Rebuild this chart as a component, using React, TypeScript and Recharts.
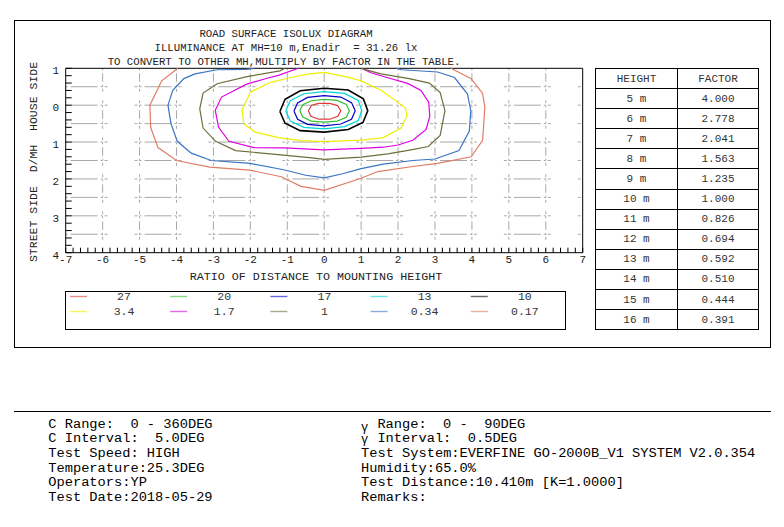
import React from "react";
import { ScatterChart, Scatter, XAxis, YAxis, CartesianGrid, ReferenceArea } from "recharts";

const FONT = "'Liberation Mono', 'Courier New', monospace";

// isolux levels (lx), same order as the legend
const LEVELS = ["27", "20", "17", "13", "10", "3.4", "1.7", "1", "0.34", "0.17"];
const COLORS = ["#e03c3c", "#34c034", "#0000c4", "#00d4d4", "#000000", "#f0ee00", "#e000e0", "#6e6e3c", "#3a74c4", "#e07c64"];
const CLOSED = [true, true, true, true, true, true, false, false, false, false];

// contour points [x, y] as D/MH ; y < 0 is house side
const C27 = [[-0.43, 0.15], [-0.34, 0.0], [-0.15, -0.05], [0.15, -0.05], [0.36, 0.01], [0.45, 0.15], [0.37, 0.3], [0.15, 0.38], [-0.15, 0.38], [-0.36, 0.3]];
const C20 = [[-0.66, 0.15], [-0.58, -0.01], [-0.35, -0.12], [0, -0.16], [0.35, -0.13], [0.6, -0.02], [0.68, 0.15], [0.6, 0.33], [0.35, 0.43], [0, 0.46], [-0.35, 0.43], [-0.58, 0.32]];
const C17 = [[-0.82, 0.16], [-0.72, -0.06], [-0.45, -0.21], [0, -0.26], [0.45, -0.22], [0.74, -0.07], [0.84, 0.15], [0.74, 0.38], [0.45, 0.51], [0, 0.56], [-0.45, 0.52], [-0.72, 0.38]];
const C13 = [[-1.04, 0.15], [-0.92, -0.12], [-0.55, -0.31], [0, -0.37], [0.55, -0.32], [0.92, -0.13], [1.02, 0.15], [0.92, 0.42], [0.55, 0.58], [0, 0.64], [-0.55, 0.6], [-0.92, 0.43]];
const C10 = [[-1.2, 0.17], [-1.06, -0.16], [-0.65, -0.39], [0, -0.46], [0.65, -0.41], [1.06, -0.17], [1.18, 0.15], [1.05, 0.47], [0.65, 0.66], [0, 0.73], [-0.65, 0.69], [-1.06, 0.49]];
const C3_4 = [[0, -0.89], [0.64, -0.76], [1.0, -0.66], [1.55, -0.4], [1.9, -0.15], [2.2, 0.08], [2.24, 0.3], [2.08, 0.62], [1.6, 0.88], [1.0, 0.95], [0.5, 0.97], [0, 0.99], [-0.6, 0.96], [-1.24, 0.88], [-1.87, 0.73], [-2.18, 0.5], [-2.22, 0.12], [-2.0, -0.35], [-1.45, -0.62], [-0.9, -0.75], [-0.45, -0.84]];
const C1_7 = [[-0.7, -1], [-1.24, -0.81], [-1.55, -0.73], [-2.1, -0.57], [-2.78, -0.22], [-2.95, 0.14], [-2.86, 0.6], [-2.58, 0.98], [-1.9, 1.15], [-1.08, 1.16], [0, 1.21], [1, 1.17], [1.6, 1.14], [2.0, 1.08], [2.4, 0.95], [2.76, 0.66], [2.86, 0.3], [2.83, -0.08], [2.62, -0.4], [2.26, -0.59], [1.63, -0.77], [1.27, -0.88], [1.0, -1]];
const C1 = [[-1.06, -1], [-1.2, -0.93], [-2.06, -0.78], [-2.9, -0.58], [-3.28, -0.33], [-3.37, 0.1], [-3.28, 0.62], [-2.94, 0.98], [-2.4, 1.23], [-1.25, 1.34], [-0.4, 1.42], [0, 1.47], [1, 1.41], [1.72, 1.32], [2.35, 1.21], [2.82, 1.12], [3.14, 0.82], [3.27, 0.15], [3.14, -0.34], [2.85, -0.6], [2.3, -0.72], [1.54, -0.85], [1.09, -0.97], [1.02, -1]];
const C0_34 = [[-1.9, -1], [-2.1, -0.97], [-2.9, -0.96], [-3.5, -0.85], [-3.8, -0.72], [-4.1, -0.4], [-4.23, 0], [-4.15, 0.5], [-3.98, 0.98], [-3.6, 1.3], [-3.06, 1.5], [-2.0, 1.58], [-1.1, 1.75], [-0.5, 1.9], [0, 1.97], [0.5, 1.86], [1, 1.72], [1.6, 1.6], [2.4, 1.5], [3.0, 1.46], [3.65, 1.23], [3.93, 0.7], [3.97, 0.15], [3.88, -0.3], [3.53, -0.75], [3.07, -0.9], [2.1, -0.96], [1.96, -1]];
const C0_17 = [[-3.96, -1], [-4.4, -0.66], [-4.72, 0], [-4.7, 0.6], [-4.5, 1.15], [-4.0, 1.5], [-3.1, 1.68], [-2.02, 1.76], [-1.16, 1.94], [-0.63, 2.2], [0, 2.31], [1, 1.98], [1.45, 1.8], [2.35, 1.67], [3.07, 1.58], [3.98, 1.4], [4.29, 0.95], [4.35, 0.05], [4.29, -0.32], [3.98, -0.72], [3.43, -1]];
const CONTOURS = [C27, C20, C17, C13, C10, C3_4, C1_7, C1, C0_34, C0_17];

// factor table
const HEIGHTS = ["5 m", "6 m", "7 m", "8 m", "9 m", "10 m", "11 m", "12 m", "13 m", "14 m", "15 m", "16 m"];
const FACTORS = ["4.000", "2.778", "2.041", "1.563", "1.235", "1.000", "0.826", "0.694", "0.592", "0.510", "0.444", "0.391"];

// test info at the bottom
const INFO_LEFT = ["C Range:  0 - 360DEG", "C Interval:  5.0DEG", "Test Speed: HIGH", "Temperature:25.3DEG", "Operators:YP", "Test Date:2018-05-29"];
const INFO_RIGHT = ["Range:  0 -  90DEG", "Interval:  0.5DEG", "Test System:EVERFINE GO-2000B_V1 SYSTEM V2.0.354", "Humidity:65.0%", "Test Distance:10.410m [K=1.0000]", "Remarks:"];

const X_TICKS = Array.from({ length: 71 }, (_, i) => Math.round((-7 + i * 0.2) * 10) / 10);
const Y_TICKS = Array.from({ length: 26 }, (_, i) => Math.round((-1 + i * 0.2) * 10) / 10);
const V_GRID = [-6, -5, -4, -3, -2, -1, 0, 1, 2, 3, 4, 5, 6];
const H_GRID = [-0.5, 0, 0.5, 1, 1.5, 2, 2.5, 3, 3.5];

const isInt = (v: number) => Math.abs(v - Math.round(v)) < 1e-6;

function XTick(props: any) {
  const { x, y, payload } = props;
  const v = payload.value;
  return (
    <g>
      <line x1={x} y1={y} x2={x} y2={y - 5} stroke="#000" />
      {isInt(v) && (
        <text x={x} y={y + 10.5} textAnchor="middle" fontFamily={FONT} fontSize={11} fill="#222">
          {Math.round(v)}
        </text>
      )}
    </g>
  );
}

function YTick(props: any) {
  const { x, y, payload } = props;
  const v = payload.value;
  return (
    <g>
      <line x1={x} y1={y} x2={x + 6} y2={y} stroke="#000" />
      {isInt(v) && (
        <text x={x - 6.5} y={y + 6} textAnchor="end" fontFamily={FONT} fontSize={11} fill="#222">
          {Math.abs(Math.round(v))}
        </text>
      )}
    </g>
  );
}

const noDot = () => <g />;

const text = (extra: React.CSSProperties): React.CSSProperties => ({
  position: "absolute",
  fontFamily: FONT,
  whiteSpace: "pre",
  lineHeight: 1,
  color: "#222",
  ...extra,
});

export default function App() {
  const series = CONTOURS.map((c, i) => {
    const pts = c.map(([x, y]) => ({ x, y }));
    return CLOSED[i] ? [...pts, pts[0]] : pts;
  });

  return (
    <div style={{ position: "absolute", left: 0, top: 0, width: 784, height: 527, background: "#fff" }}>
      {/* outer frame */}
      <div style={{ position: "absolute", left: 14, top: 20, width: 757, height: 328, border: "1px solid #000", boxSizing: "border-box" }} />

      {/* titles */}
      <div style={text({ left: 286, top: 34, fontSize: 10.7, transform: "translate(-50%,-50%)" })}>ROAD SURFACE ISOLUX DIAGRAM</div>
      <div style={text({ left: 286, top: 48, fontSize: 10.7, transform: "translate(-50%,-50%)" })}>ILLUMINANCE AT MH=10 m,Enadir  = 31.26 lx</div>
      <div style={text({ left: 284, top: 61.5, fontSize: 10.7, transform: "translate(-50%,-50%)" })}>TO CONVERT TO OTHER MH,MULTIPLY BY FACTOR IN THE TABLE.</div>

      <div style={{ position: "absolute", left: 0, top: 0 }}>
        <ScatterChart width={784} height={300} margin={{ top: 68.3, right: 201.3, bottom: 46.3, left: 64.7 }}>
          <CartesianGrid vertical={false} horizontalValues={H_GRID} stroke="#a8a8a8" strokeDasharray="2 3 26.93 3 2" />
          <CartesianGrid horizontal={false} verticalValues={V_GRID} stroke="#a8a8a8" strokeDasharray="2 3 8.5 3 2" />
          <XAxis type="number" dataKey="x" domain={[-7, 7]} ticks={X_TICKS} interval={0} height={1}
            axisLine={false} tickLine={false} tickSize={0} tickMargin={0} tick={<XTick />} />
          <YAxis type="number" dataKey="y" domain={[-1, 4]} reversed ticks={Y_TICKS} interval={0} width={1}
            axisLine={false} tickLine={false} tickSize={0} tickMargin={0} tick={<YTick />} />
          <ReferenceArea x1={-7} x2={7} y1={-1} y2={4} fill="none" stroke="#000" strokeWidth={1} />
          {series.map((d, i) => (
            <Scatter key={LEVELS[i]} name={LEVELS[i]} data={d} fill={COLORS[i]} shape={noDot}
              line={{ stroke: COLORS[i], strokeWidth: i === 4 ? 1.6 : 1.2 }} isAnimationActive={false} />
          ))}
        </ScatterChart>
      </div>

      {/* axis titles */}
      <div style={text({ left: 316, top: 278, fontSize: 11.7, transform: "translate(-50%,-50%)" })}>RATIO OF DISTANCE TO MOUNTING HEIGHT</div>
      <div style={text({ left: 34, top: 162, fontSize: 11.5, transform: "translate(-50%,-50%) rotate(-90deg)" })}>STREET SIDE  D/MH  HOUSE SIDE</div>

      {/* legend */}
      <div style={{ position: "absolute", left: 65, top: 290.7, width: 501, height: 39.5, border: "1px solid #000", boxSizing: "border-box" }}>
        <svg width={499} height={37} style={{ position: "absolute", left: 0, top: 0 }}>
          {LEVELS.map((lv, i) => {
            const col = i % 5;
            const row = Math.floor(i / 5);
            const cy = 4.5 + row * 15;
            return (
              <line key={lv} x1={4 + col * 100.2} x2={21 + col * 100.2} y1={cy} y2={cy} stroke={COLORS[i]} strokeOpacity={0.6} strokeWidth={1.4} />
            );
          })}
        </svg>
        {LEVELS.map((lv, i) => {
          const col = i % 5;
          const row = Math.floor(i / 5);
          const cy = 5 + row * 15;
          return (
            <div key={lv} style={text({ left: 58 + col * 100.2, top: cy, fontSize: 11.5, color: "#333", transform: "translate(-50%,-50%)" })}>{lv}</div>
          );
        })}
      </div>

      {/* factor table */}
      <div style={{ position: "absolute", left: 595, top: 68, width: 164, border: "1px solid #000", boxSizing: "border-box" }}>
        {[["HEIGHT", "FACTOR"], ...HEIGHTS.map((h, i) => [h, FACTORS[i]])].map(([a, b], r) => (
          <div key={a} style={{ display: "flex", height: 19.1, borderTop: r === 0 ? "none" : "1px solid #000" }}>
            <div style={{ width: 81, borderRight: "1px solid #000", display: "flex", alignItems: "center", justifyContent: "center", fontFamily: FONT, fontSize: 11, color: "#333", whiteSpace: "pre" }}>{a}</div>
            <div style={{ flex: 1, display: "flex", alignItems: "center", justifyContent: "center", fontFamily: FONT, fontSize: 11, color: "#333" }}>{b}</div>
          </div>
        ))}
      </div>

      {/* info block */}
      <div style={{ position: "absolute", left: 14, top: 411, width: 757, height: 1, background: "#000" }} />
      <div style={{ position: "absolute", left: 48.3, top: 417.6, fontFamily: FONT, fontSize: 13.7, lineHeight: "14.7px", whiteSpace: "pre", color: "#000" }}>
        {INFO_LEFT.map((s) => <div key={s}>{s}</div>)}
      </div>
      <div style={{ position: "absolute", left: 361, top: 417.6, fontFamily: FONT, fontSize: 13.7, lineHeight: "14.7px", whiteSpace: "pre", color: "#000" }}>
        {INFO_RIGHT.map((s, i) => (
          <div key={s}>
            {i < 2 ? (
              <>
                <span style={{ display: "inline-block", width: 16.4, position: "relative", top: i === 0 ? 3 : 1, fontSize: 12 }}>γ</span>
                {s}
              </>
            ) : s}
          </div>
        ))}
      </div>
    </div>
  );
}
